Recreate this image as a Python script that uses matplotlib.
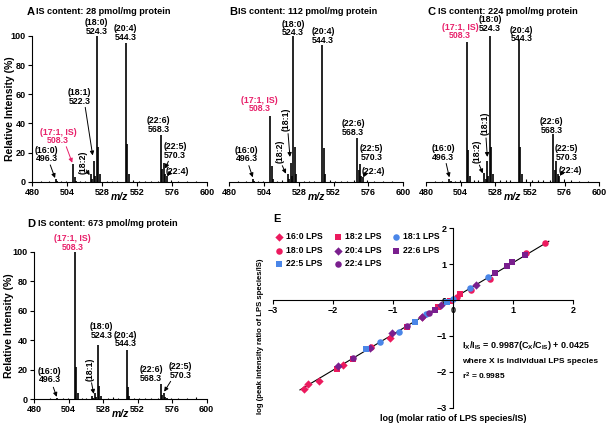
import numpy as np
import matplotlib
matplotlib.use('Agg')
import matplotlib.pyplot as plt

plt.rcParams['font.family'] = ['Liberation Sans', 'DejaVu Sans']
plt.rcParams['font.weight'] = 'bold'
plt.rcParams['axes.labelweight'] = 'bold'
plt.rcParams['mathtext.fontset'] = 'custom'
plt.rcParams['mathtext.rm'] = 'Liberation Sans:bold'
plt.rcParams['mathtext.it'] = 'Liberation Sans:bold:italic'
plt.rcParams['mathtext.bf'] = 'Liberation Sans:bold'
plt.rcParams['mathtext.default'] = 'rm'

PINK = '#e8206a'
CRIMSON = '#ec1a5e'
BLUE = '#4a86e8'
PURPLE = '#7a1f8e'

# ---- spectra (m/z, relative intensity %) ----
mz = [496.3, 497.3, 508.3, 509.3, 510.3, 520.3, 521.3, 522.3, 523.3, 524.3,
      525.3, 526.3, 544.3, 545.3, 546.3, 568.3, 569.3, 570.3, 571.3, 572.3]
int_a = [2, 0.5, 12, 3, 0.8, 5.5, 1.5, 14, 4, 100, 24, 5, 95, 26, 5, 32, 9, 13, 5, 4]
int_b = [2, 0.5, 45, 11, 2, 5.5, 1.5, 13, 4, 100, 24, 5, 94, 23, 5, 30, 8, 12, 4, 3.5]
int_c = [1.5, 0.4, 96, 22, 4, 6, 1.5, 14, 4, 100, 24, 5, 97, 24, 5, 33, 8, 14, 5, 4]
int_d = [1, 0.3, 100, 22, 4, 2, 0.5, 4, 1.5, 37, 9, 2, 33, 8, 2, 10, 3, 4, 1.5, 1]

noise_mz = [486.2, 491.4, 500.1, 503.3, 513.2, 516.3, 531.4, 535.1, 538.3, 549.3,
            553.2, 557.4, 561.3, 566.2, 575.4, 580.3, 586.3, 592.3]
noise_a = [0.3, 0.4, 0.5, 0.4, 0.6, 0.8, 0.7, 0.5, 0.6, 0.9, 0.6, 0.5, 0.6, 0.8, 1.2, 0.6, 0.4, 0.3]
noise_b = [0.3, 0.4, 0.5, 0.6, 0.7, 0.9, 0.8, 0.6, 0.6, 0.9, 0.7, 0.5, 0.7, 0.9, 1.3, 0.6, 0.4, 0.3]
noise_c = [0.5, 0.7, 0.8, 0.9, 1.2, 1.4, 1.3, 1.1, 1.2, 1.5, 1.0, 0.9, 1.0, 1.3, 1.8, 1.0, 0.7, 0.6]
noise_d = [0.3, 0.4, 0.5, 0.6, 0.8, 1.0, 0.9, 1.2, 0.8, 1.0, 0.8, 0.6, 0.7, 0.8, 1.0, 0.6, 0.5, 1.5]

is_content = ['28', '112', '224', '673']
letters = ['A', 'B', 'C', 'D']

# ---- calibration (log molar ratio, log peak intensity ratio) ----
species = ['16:0 LPS', '18:0 LPS', '18:2 LPS', '18:1 LPS',
           '20:4 LPS', '22:6 LPS', '22:5 LPS', '22:4 LPS']
x_vals = [
    [-2.49, -2.42, -2.24, -1.84, -1.05, -0.52],
    [1.53, 1.22, 0.62, 0.30, 0.07, -1.36],
    [-1.94, -1.66, -0.77, -0.25, -0.05, 0.12],
    [-1.22, -0.90, -0.44, 0.00, 0.28, 0.59],
    [-1.91, -1.38, -1.02, -0.52, -0.20, 0.38],
    [-0.30, 0.70, 0.90, 0.99, 1.20],
    [-1.45, -0.63, -0.10],
    [-1.66, -0.77, -0.40],
]
y_vals = [
    [-2.49, -2.35, -2.25, -1.80, -1.05, -0.48],
    [1.60, 1.30, 0.58, 0.27, 0.09, -1.31],
    [-1.92, -1.63, -0.74, -0.20, -0.02, 0.16],
    [-1.16, -0.88, -0.40, 0.03, 0.35, 0.65],
    [-1.84, -1.33, -0.92, -0.46, -0.15, 0.41],
    [-0.28, 0.75, 0.95, 1.07, 1.27],
    [-1.35, -0.60, -0.05],
    [-1.62, -0.72, -0.36],
]
markers = ['D', 'o', 's', 'o', 'D', 's', 's', 'o']
colors = [CRIMSON, CRIMSON, CRIMSON, BLUE, PURPLE, PURPLE, BLUE, PURPLE]
slope, intercept = 0.9987, 0.0425

fig = plt.figure(figsize=(6.12, 4.29), dpi=100)


def px(x, y):
    return x / 612, 1 - y / 429


def arrow(ax, start, end, color='black'):
    ax.annotate('', xy=end, xytext=start,
                arrowprops=dict(arrowstyle='-|>', lw=0.7, color=color,
                                mutation_scale=6, shrinkA=0, shrinkB=0))


def label(ax, s, x, y, color='black', rot=0):
    if rot:
        ax.text(x, y, s, rotation=90, ha='center', va='center', fontsize=6.3,
                color=color, clip_on=False)
    else:
        ax.text(x, y, s, ha='center', va='bottom', fontsize=6.3, color=color,
                linespacing=0.95, clip_on=False)


def spectrum(ax, ints, noise, left_axis):
    ax.vlines(noise_mz, 0, noise, color='black', lw=0.8)
    ax.vlines(mz, 0, ints, color='black', lw=1.2)
    ax.set_xlim(480, 600)
    ax.set_ylim(0, 100)
    ax.set_xticks(range(480, 601, 24))
    ax.spines['top'].set_visible(False)
    ax.spines['right'].set_visible(False)
    for sp in ax.spines.values():
        sp.set_linewidth(0.8)
    ax.tick_params(labelsize=6.5, length=3, width=0.8, pad=1.5)
    ax.set_xlabel('m/z', fontsize=7.5, style='italic')
    ax.xaxis.set_label_coords(0.5, -0.07)
    if left_axis:
        ax.set_yticks(range(0, 101, 20))
        ax.set_ylabel('Relative Intensity (%)', fontsize=7.5)
    else:
        ax.spines['left'].set_visible(False)
        ax.set_yticks([])


pos = [[0.0523, 0.5765, 0.286, 0.3396],
       [0.3747, 0.5765, 0.2838, 0.3396],
       [0.696, 0.5765, 0.2832, 0.3396],
       [0.0556, 0.0699, 0.282, 0.3434]]
title_px = [(26.5, 36.5, 12), (229, 237.5, 12), (427.5, 437.5, 12), (27.5, 37.5, 224)]
all_int = [int_a, int_b, int_c, int_d]
all_noise = [noise_a, noise_b, noise_c, noise_d]
axs = []
for i in range(4):
    ax = fig.add_axes(pos[i])
    spectrum(ax, all_int[i], all_noise[i], i in (0, 3))
    lx, tx, ty = title_px[i]
    fig.text(*px(lx, ty), letters[i], fontsize=8, va='center', ha='left')
    fig.text(*px(tx, ty), 'IS content: %s pmol/mg protein' % is_content[i],
             fontsize=6.6, va='center', ha='left')
    axs.append(ax)

axs[0].yaxis.set_label_coords(-0.1, 0.5)
axs[3].yaxis.set_label_coords(-0.115, 0.5)

# panel A labels
ax = axs[0]
label(ax, '(18:0)\n524.3', 524.3, 100)
label(ax, '(20:4)\n544.3', 544.0, 96)
label(ax, '(18:1)\n522.3', 512.8, 52)
arrow(ax, (516.5, 51), (521.6, 18))
label(ax, '(18:2)', 515.3, 13, rot=1)
arrow(ax, (517.3, 8), (519.5, 4.5))
label(ax, '(17:1, IS)\n508.3', 498, 25, color=PINK)
arrow(ax, (503.5, 24), (507.6, 13), color=PINK)
label(ax, '(16:0)\n496.3', 490, 12.6)
arrow(ax, (492.5, 11.5), (495.8, 2.5))
label(ax, '(22:6)\n568.3', 567, 33)
label(ax, '(22:5)\n570.3', 578.2, 15)
arrow(ax, (573.5, 14), (571.3, 9))
label(ax, '(22:4)', 580, 4)
arrow(ax, (575, 6.5), (572.6, 4))

# panel B labels
ax = axs[1]
label(ax, '(18:0)\n524.3', 524.1, 99)
label(ax, '(20:4)\n544.3', 544.8, 94)
label(ax, '(17:1, IS)\n508.3', 501, 47, color=PINK)
label(ax, '(18:1)', 519.5, 43, rot=1)
arrow(ax, (520.6, 33), (521.9, 17))
label(ax, '(18:2)', 514.9, 20.6, rot=1)
arrow(ax, (516.6, 11), (519.1, 5.5))
label(ax, '(16:0)\n496.3', 492, 12.6)
arrow(ax, (493.5, 11), (496.2, 3))
label(ax, '(22:6)\n568.3', 565.5, 31)
label(ax, '(22:5)\n570.3', 578.2, 13.7)
label(ax, '(22:4)', 579.3, 4)
arrow(ax, (574.5, 6.5), (572.5, 3))

# panel C labels
ax = axs[2]
label(ax, '(17:1, IS)\n508.3', 503.6, 97, color=PINK)
label(ax, '(18:0)\n524.3', 524.3, 102)
label(ax, '(20:4)\n544.3', 546.3, 95)
label(ax, '(18:1)', 520.9, 40, rot=1)
arrow(ax, (521.6, 30), (522.5, 17))
label(ax, '(18:2)', 515.6, 20.6, rot=1)
arrow(ax, (517, 11.4), (519.3, 5.7))
label(ax, '(16:0)\n496.3', 492, 13.7)
arrow(ax, (494, 12.5), (496.2, 3))
label(ax, '(22:6)\n568.3', 567, 32)
label(ax, '(22:5)\n570.3', 577.5, 13.7)
label(ax, '(22:4)', 579.8, 4.5)
arrow(ax, (575, 7), (572.6, 4))

# panel D labels
ax = axs[3]
label(ax, '(17:1, IS)\n508.3', 506.9, 100, color=PINK)
label(ax, '(18:0)\n524.3', 527, 40)
label(ax, '(20:4)\n544.3', 543.5, 34.5)
label(ax, '(18:1)', 519, 20, rot=1)
arrow(ax, (520, 11), (521.5, 3.5))
label(ax, '(16:0)\n496.3', 491, 10)
arrow(ax, (493.4, 8), (495.8, 1.5))
label(ax, '(22:6)\n568.3', 561.3, 11)
label(ax, '(22:5)\n570.3', 582, 13)
arrow(ax, (575, 12), (570.5, 5))

# ---- panel E ----
ax = fig.add_axes([0.446, 0.0497, 0.490, 0.418])
line_x = np.array([-2.55, 1.6])
ax.plot(line_x, slope * line_x + intercept, color='black', lw=0.8, zorder=1)
handles = []
for name, xs, ys, m, c in zip(species, x_vals, y_vals, markers, colors):
    h = ax.scatter(xs, ys, marker=m, s=22 if m != 'D' else 18, color=c,
                   label=name, zorder=2, linewidths=0)
    handles.append(h)
ax.set_xlim(-3, 2)
ax.set_ylim(-3, 2)
ax.spines['left'].set_position(('data', 0))
ax.spines['bottom'].set_position(('data', 0))
ax.spines['top'].set_visible(False)
ax.spines['right'].set_visible(False)
for sp in ax.spines.values():
    sp.set_linewidth(0.8)
ax.set_xticks(range(-3, 3))
ax.set_yticks(range(-3, 3))
ax.tick_params(labelsize=6.5, length=3, width=0.8, pad=1.5)
ax.set_xlabel('log (molar ratio of LPS species/IS)', fontsize=6.5)
ax.xaxis.set_label_coords(0.6, -0.038)
ax.set_ylabel('log (peak intensity ratio of LPS species/IS)', fontsize=5.6)
ax.yaxis.set_label_coords(-0.03, 0.40)

order = [0, 1, 6, 2, 4, 7, 3, 5]
ax.legend([handles[k] for k in order], [species[k] for k in order],
          ncol=3, loc='upper left', bbox_to_anchor=(0.007, 0.977),
          frameon=False, fontsize=6.2, borderaxespad=0, borderpad=0,
          handlelength=1.0, handletextpad=0.3, columnspacing=1.2,
          labelspacing=0.5)

ax.text(0.63, 0.345, r'I$_X$/I$_{IS}$ = 0.9987(C$_X$/C$_{IS}$) + 0.0425',
        transform=ax.transAxes, fontsize=6.5, va='center')
ax.text(0.63, 0.26, 'where X is individual LPS species',
        transform=ax.transAxes, fontsize=6, va='center')
ax.text(0.63, 0.175, 'r$^2$ = 0.9985',
        transform=ax.transAxes, fontsize=6, va='center')
fig.text(*px(273, 219), 'E', fontsize=8, va='center', ha='left')

fig.savefig('out.png', dpi=100)
